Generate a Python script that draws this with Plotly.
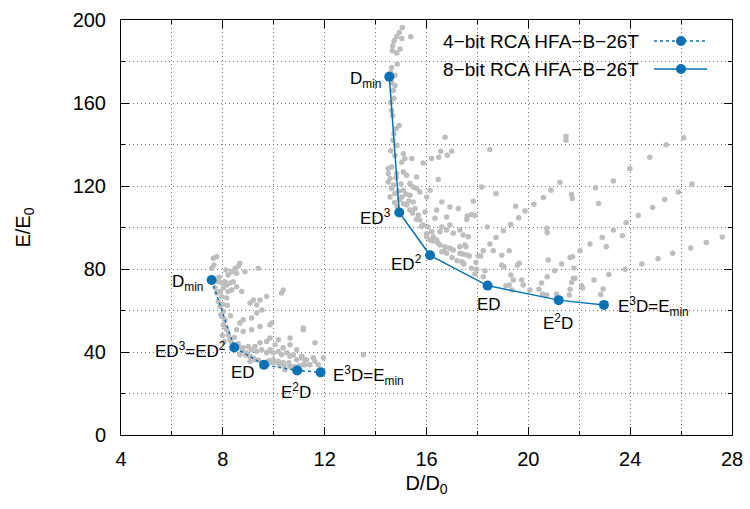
import plotly.graph_objects as go

# ---- data -------------------------------------------------------------
bit4_D = [7.56, 8.45, 9.62, 10.92, 11.84]
bit4_E = [74.7, 42.2, 33.9, 31.1, 30.2]
bit4_labels = ["D<sub>min</sub>", "ED<sup>3</sup>=ED<sup>2</sup>", "ED",
               "E<sup>2</sup>D", "E<sup>3</sup>D=E<sub>min</sub>"]

bit8_D = [14.54, 14.93, 16.14, 18.40, 21.19, 22.97]
bit8_E = [172.7, 107.2, 86.6, 72.0, 65.0, 62.7]
bit8_labels = ["D<sub>min</sub>", "ED<sup>3</sup>", "ED<sup>2</sup>", "ED",
               "E<sup>2</sup>D", "E<sup>3</sup>D=E<sub>min</sub>"]

cloud4_D = [7.63, 7.65, 7.56, 7.76, 8.21, 8.35, 8.48, 8.61, 8.67, 9.39, 8.12, 8.54, 8.87,
            7.82, 7.96, 8.08, 8.15, 8.28, 8.41, 8.54, 8.02, 7.89, 8.21, 8.35, 7.76, 7.96,
            8.15, 7.82, 7.89, 8.02, 7.96, 8.08, 8.02, 8.15, 8.21, 8.28, 8.35, 8.74, 9.20,
            9.07, 9.46, 9.72, 9.33, 9.53, 9.33, 9.13, 8.80, 8.67, 8.54, 8.80, 9.13, 9.46,
            9.85, 10.37, 10.31, 9.92, 11.16, 10.64, 8.61, 8.80, 9.00, 9.13, 9.26, 9.33,
            9.53, 9.72, 9.85, 9.98, 10.18, 10.31, 10.51, 10.64, 10.77, 10.90, 11.10, 11.23,
            9.98, 10.18, 10.37, 9.85, 9.26, 9.07, 8.94, 9.46, 9.72, 10.05, 10.18, 9.85,
            10.64, 10.37, 10.90, 11.16, 10.64, 11.16, 11.62, 13.52, 11.10, 11.29, 11.55,
            11.62, 11.75, 11.95, 11.42, 11.23, 11.03, 9.07, 9.54, 10.44, 8.67,
            7.70, 7.85, 8.00, 7.92, 8.10, 7.98, 8.05, 8.18, 8.30, 8.45, 8.60, 8.75, 8.90,
            9.05, 9.20, 9.40, 9.60, 9.80, 10.00, 10.20, 10.40, 10.60, 10.80, 11.00]
cloud4_E = [85.2, 81.9, 80.4, 85.9, 77.1, 78.7, 80.4, 81.5, 82.8, 80.4, 79.5, 78.0, 78.7,
            73.9, 73.2, 73.9, 72.3, 73.2, 73.9, 71.5, 70.8, 69.1, 69.1, 69.9, 68.4, 66.7,
            66.0, 64.3, 61.9, 59.5, 57.1, 55.5, 53.1, 50.7, 48.3, 45.9, 44.4, 69.1, 65.1,
            63.6, 65.1, 66.7, 62.7, 60.3, 58.8, 56.4, 55.5, 54.0, 50.7, 49.9, 50.7, 52.3,
            53.1, 69.9, 68.4, 54.0, 50.7, 43.5, 42.7, 42.0, 42.7, 41.1, 42.7, 40.3,
            41.1, 39.6, 41.1, 39.6, 40.3, 38.7, 39.6, 37.9, 38.7, 36.3, 37.9, 36.3,
            36.3, 35.5, 34.8, 34.8, 36.3, 37.9, 39.6, 44.4, 45.1, 43.5, 45.9, 46.8,
            46.8, 42.0, 41.1, 33.9, 33.1, 51.6, 44.4, 38.7, 37.2, 36.3, 37.2,
            35.5, 33.9, 37.2, 33.9, 33.9, 31.5, 35.4, 33.0, 31.5, 38.7,
            71.0, 76.0, 63.0, 58.0, 52.0, 48.0, 45.0, 62.5, 57.5, 47.0, 44.0, 40.5, 38.5,
            38.0, 37.0, 36.0, 34.5, 35.8, 35.0, 34.0, 33.5, 34.8, 33.0, 33.2]

cloud8_D = [22.42, 22.58, 22.64, 22.76, 22.90, 23.06, 23.16, 22.94, 22.84, 23.34, 23.34,
            23.69, 23.80, 23.84, 23.99, 24.32, 24.46, 24.77, 24.88, 25.09, 25.36, 25.41,
            25.67, 25.89, 26.10, 26.38, 26.43, 26.99, 27.62,
            18.49, 21.48, 21.48, 18.17, 18.73, 17.84, 17.60, 17.58, 17.77, 17.90, 21.24,
            20.89, 20.59, 20.22, 19.87, 19.50, 19.62, 19.31, 19.02, 18.73, 18.49, 18.23,
            18.39, 17.64, 17.31, 17.55, 17.44, 17.68, 18.03, 18.13, 17.94, 17.47, 17.77,
            17.97, 18.30, 17.90, 18.23, 18.62, 18.96, 19.25, 18.95, 19.04, 19.57, 19.64,
            19.31, 19.41, 19.25, 19.12, 19.36, 19.74, 19.80, 20.06, 20.52, 20.42, 20.78,
            20.74, 20.56, 20.72, 21.03, 21.31, 21.11, 21.64, 21.74, 21.79, 21.77, 21.83,
            21.70, 21.64, 21.61, 22.03, 22.09, 22.13, 20.72, 20.74, 21.70, 21.73,
            16.73, 16.99, 16.56, 16.82, 16.48, 15.09, 15.15, 15.42, 15.87, 16.20, 15.03,
            14.50, 14.63, 14.50, 14.57, 15.09, 15.22, 15.35, 15.48, 15.61, 15.74, 16.46,
            16.01, 16.14, 16.60, 16.92, 17.25, 14.50, 14.63, 14.76, 14.57, 15.09, 15.03,
            15.35, 15.48, 15.22, 15.35, 15.55, 15.68, 15.74, 15.87, 16.07, 16.20, 16.27,
            16.40, 16.53, 16.73, 16.92, 17.05, 17.51, 17.31, 17.58, 16.79, 16.60, 16.14,
            16.01, 16.60, 16.79, 16.53, 16.92, 17.05, 17.31, 17.44, 16.33, 16.79, 15.94,
            16.40, 15.61, 14.83,
            15.05, 14.93, 14.83, 15.38, 15.03, 14.73, 14.67, 14.96, 14.66, 14.83, 14.85,
            14.63, 14.59, 14.76, 14.63, 14.76, 14.70, 14.72, 14.59, 14.63, 14.67, 14.93,
            14.80, 14.72, 14.68, 14.84, 14.60, 14.76,
            14.70, 14.80, 14.90, 15.00, 14.75, 14.85, 14.95, 15.10, 15.20, 15.30, 15.45,
            15.60, 15.80, 16.00, 16.25, 16.45, 16.70, 17.00, 17.20, 17.40]
cloud8_E = [92.0, 74.7, 119.2, 111.6, 95.2, 90.7, 77.3, 70.4, 67.7, 122.4, 98.8,
            96.0, 79.9, 102.3, 128.4, 105.8, 82.4, 133.9, 109.6, 85.0, 113.5, 139.9,
            87.6, 117.1, 143.3, 90.1, 121.0, 92.8, 95.4,
            137.6, 144.0, 142.0, 119.5, 116.4, 112.7, 105.5, 103.9, 106.3, 105.8, 121.7,
            118.0, 114.5, 111.2, 108.0, 110.3, 104.7, 101.5, 98.4, 95.2, 92.0, 88.8,
            100.3, 95.5, 90.7, 90.7, 87.2, 86.3, 86.3, 86.3, 83.1, 82.4, 80.4,
            79.9, 79.2, 77.6, 76.3, 88.8, 86.6, 88.8, 81.9, 81.1, 81.9, 82.8,
            77.1, 74.7, 72.3, 71.9, 69.9, 74.7, 72.3, 69.9, 73.2, 70.3, 84.3,
            76.3, 67.9, 67.5, 79.2, 82.4, 67.9, 85.6, 85.9, 80.5, 75.6, 75.6,
            73.5, 70.3, 67.5, 88.8, 71.9, 70.8, 99.6, 97.5, 115.9, 114.0,
            143.5, 136.8, 136.8, 134.8, 133.9, 135.6, 133.2, 133.2, 131.1, 133.2, 131.5,
            128.4, 129.1, 126.0, 123.6, 126.7, 125.2, 121.2, 119.5, 118.8, 117.1, 123.1,
            114.7, 118.0, 112.3, 109.9, 109.2, 121.9, 118.8, 116.4, 114.7, 118.0, 114.7,
            115.6, 112.3, 110.8, 108.4, 109.2, 106.0, 103.6, 101.2, 100.3, 97.9, 95.5,
            94.0, 91.6, 90.7, 90.0, 89.2, 91.6, 87.6, 86.8, 87.6, 88.3, 94.0,
            95.5, 100.3, 98.8, 97.9, 101.2, 97.2, 98.8, 96.4, 104.4, 105.1, 107.5,
            108.4, 124.3, 126.0,
            196.4, 194.0, 192.0, 191.9, 191.1, 190.0, 187.6, 186.0, 185.2, 184.1, 178.8,
            177.1, 174.7, 173.2, 169.9, 168.4, 166.0, 162.3, 160.3, 156.4, 154.0, 149.2,
            147.6, 145.2, 142.0, 139.5, 137.0, 134.7,
            120.5, 124.0, 117.5, 121.0, 112.0, 110.0, 113.5, 111.5, 116.0, 112.8, 107.0,
            104.0, 100.5, 97.0, 93.5, 92.5, 88.5, 85.5, 84.0, 83.5]

legend_names = ["4\u2212bit RCA HFA\u2212B\u221226T", "8\u2212bit RCA HFA\u2212B\u221226T"]
x_ticks = [4, 8, 12, 16, 20, 24, 28]
y_ticks = [0, 40, 80, 120, 160, 200]

# ---- style ------------------------------------------------------------
BLUE = "#0a72b4"
GRAY = "#bebebe"
GRID = "#707070"
FONT = "Liberation Sans, Arial, Helvetica, sans-serif"
W, H = 750, 509
ML, MR, MT, MB = 121, 18, 20, 74

fig = go.Figure()
fig.add_trace(go.Scatter(x=cloud4_D, y=cloud4_E, mode="markers",
                         marker=dict(color=GRAY, size=5.5), showlegend=False, hoverinfo="skip"))
fig.add_trace(go.Scatter(x=cloud8_D, y=cloud8_E, mode="markers",
                         marker=dict(color=GRAY, size=5.5), showlegend=False, hoverinfo="skip"))
fig.add_trace(go.Scatter(x=bit4_D, y=bit4_E, mode="lines+markers", name=legend_names[0],
                         line=dict(color=BLUE, width=1.5, dash="3px,3px"),
                         marker=dict(color=BLUE, size=10), showlegend=False))
fig.add_trace(go.Scatter(x=bit8_D, y=bit8_E, mode="lines+markers", name=legend_names[1],
                         line=dict(color=BLUE, width=1.5),
                         marker=dict(color=BLUE, size=10), showlegend=False))

# ---- point labels -----------------------------------------------------
lab_font = dict(family=FONT, size=17, color="black")
pos4 = [("right", "middle", -7, -3), ("right", "middle", -6, -3), ("right", "middle", -7, -8),
        ("center", "top", -1, -8), ("left", "middle", 10, -3)]
pos8 = [("right", "middle", -6, -3), ("right", "middle", -6, -4), ("right", "middle", -6, -8),
        ("center", "top", 1, -7), ("center", "top", -1, -9), ("left", "middle", 12, -2)]
for xs, ys, labs, pos in [(bit4_D, bit4_E, bit4_labels, pos4), (bit8_D, bit8_E, bit8_labels, pos8)]:
    for x, y, t, (xa, ya, dx, dy) in zip(xs, ys, labs, pos):
        fig.add_annotation(x=x, y=y, xref="x", yref="y", text=t, showarrow=False,
                           xanchor=xa, yanchor=ya, xshift=dx, yshift=dy, font=lab_font)

# ---- manual legend (text left of sample, as in the original) -----------
pw, ph = W - ML - MR, H - MT - MB
def px2paper(px, py):
    return (px - ML) / pw, 1 - (py - MT) / ph

bx0, by0 = px2paper(413, 22)
bx1, by1 = px2paper(721, 86)
fig.add_shape(type="rect", xref="paper", yref="paper", x0=bx0, x1=bx1, y0=by1, y1=by0,
              fillcolor="white", line=dict(width=0), layer="between")
for i, (name, ypx) in enumerate(zip(legend_names, [41, 69])):
    tx, ty = px2paper(641, ypx)
    fig.add_annotation(x=tx, y=ty, xref="paper", yref="paper", text=name, showarrow=False,
                       xanchor="right", yanchor="middle", font=dict(family=FONT, size=19, color="black"))
    lx0, ly = px2paper(654, ypx)
    lx1, _ = px2paper(707, ypx)
    mx, _ = px2paper(681, ypx)
    fig.add_shape(type="line", xref="paper", yref="paper", x0=lx0, x1=lx1, y0=ly, y1=ly,
                  line=dict(color=BLUE, width=1.5, dash="3px,3px" if i == 0 else "solid"),
                  layer="above")
    fig.add_shape(type="circle", xref="paper", yref="paper", xsizemode="pixel", ysizemode="pixel",
                  xanchor=mx, yanchor=ly, x0=-5, x1=5, y0=-5, y1=5,
                  fillcolor=BLUE, line=dict(color=BLUE, width=0), layer="above")

axis_common = dict(
    showline=True, linecolor="black", linewidth=1, mirror="ticks",
    ticks="inside", ticklen=8, tickcolor="black", tickwidth=1,
    showgrid=True, gridcolor=GRID, gridwidth=1, griddash="1px,3px",
    zeroline=False, tickfont=dict(family=FONT, size=20, color="black"),
)
minor_common = dict(ticks="inside", ticklen=4, tickcolor="black",
                    showgrid=True, gridcolor=GRID, gridwidth=1, griddash="1px,3px")
fig.update_xaxes(range=[4, 28], tickvals=x_ticks, ticktext=[str(v) for v in x_ticks],
                 minor=dict(dtick=2, tick0=4, **minor_common),
                 title=dict(text="D/D<sub>0</sub>", font=dict(family=FONT, size=20, color="black"), standoff=6),
                 ticklabelstandoff=6, **axis_common)
fig.update_yaxes(range=[0, 200], tickvals=y_ticks, ticktext=[str(v) for v in y_ticks],
                 minor=dict(dtick=20, tick0=0, **minor_common),
                 title=dict(text="E/E<sub>0</sub>", font=dict(family=FONT, size=20, color="black"), standoff=36),
                 ticklabelstandoff=10, **axis_common)

fig.update_layout(width=W, height=H, margin=dict(l=ML, r=MR, t=MT, b=MB, autoexpand=False),
                  plot_bgcolor="white", paper_bgcolor="white", showlegend=False,
                  font=dict(family=FONT, color="black"))
fig.write_html("out.html")
